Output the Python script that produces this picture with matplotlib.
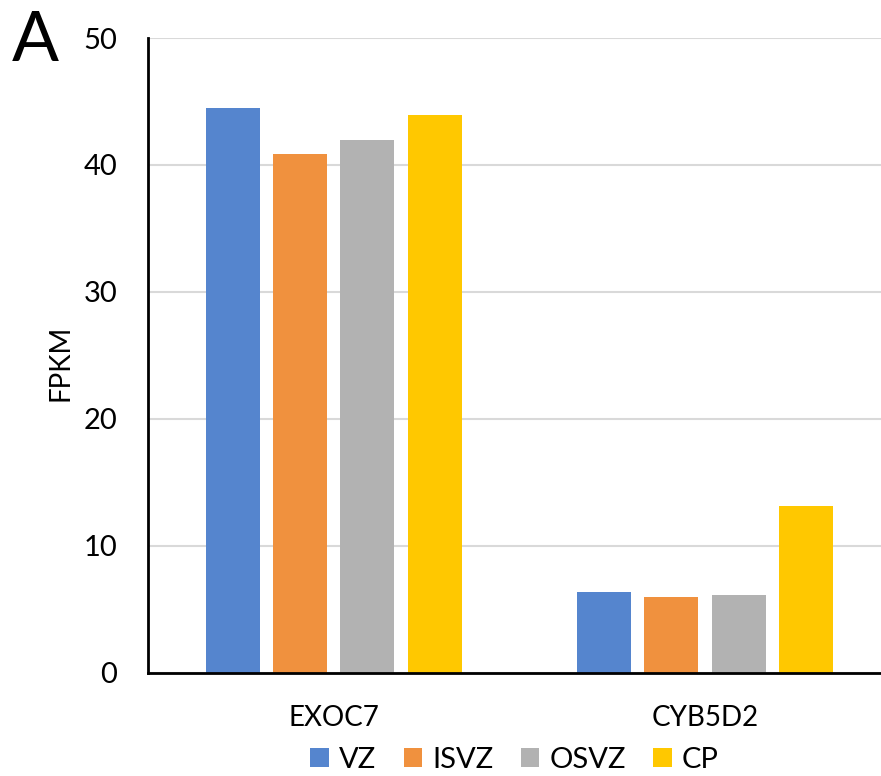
import numpy as np
import matplotlib
matplotlib.use('Agg')
import matplotlib.pyplot as plt

plt.rcParams['font.family'] = ['Lato', 'DejaVu Sans']

genes = ['EXOC7', 'CYB5D2']
regions = ['VZ', 'ISVZ', 'OSVZ', 'CP']
vz = [44.5, 6.4]
isvz = [40.9, 6.0]
osvz = [42.0, 6.1]
cp = [43.9, 13.1]
colors = ['#5585CE', '#F0913E', '#B2B2B2', '#FFC800']

fig = plt.figure(figsize=(8.81, 7.76), dpi=100)
ax = fig.add_axes([0.168, 0.133, 0.843, 0.818])

x = np.arange(len(genes))
pitch = 0.1815
width = 0.145
for i, (vals, name) in enumerate(zip([vz, isvz, osvz, cp], regions)):
    ax.bar(x + (i - 1.5) * pitch, vals, width, color=colors[i], label=name, zorder=3)

ax.set_xlim(-0.5, 1.5)
ax.set_ylim(0, 50)
ax.set_yticks(range(0, 51, 10))
ax.yaxis.grid(True, color='#D9D9D9', linewidth=1.5, zorder=0)
ax.set_xticks(x)
ax.set_xticklabels(genes, fontsize=20)
ax.tick_params(axis='x', length=0, pad=23)
ax.tick_params(axis='y', length=0, pad=22, labelsize=21)

# y label placed by hand (Excel puts it close to the tick labels)
fig.text(0.069, 0.532, 'FPKM', fontsize=20, rotation=90, ha='center', va='center')

for s in ['top', 'right']:
    ax.spines[s].set_visible(False)
ax.spines['left'].set_linewidth(2)
ax.spines['bottom'].set_linewidth(2)
ax.spines['left'].set_zorder(4)
ax.spines['bottom'].set_zorder(4)

fig.text(0.013, 0.922, 'A', fontsize=50)

fig.legend(loc='center', bbox_to_anchor=(0.584, 0.021), ncol=4, frameon=False,
           fontsize=21, handlelength=0.62, handleheight=0.62, handletextpad=0.35,
           columnspacing=0.95, borderpad=0)

fig.savefig('out.png', dpi=100)
